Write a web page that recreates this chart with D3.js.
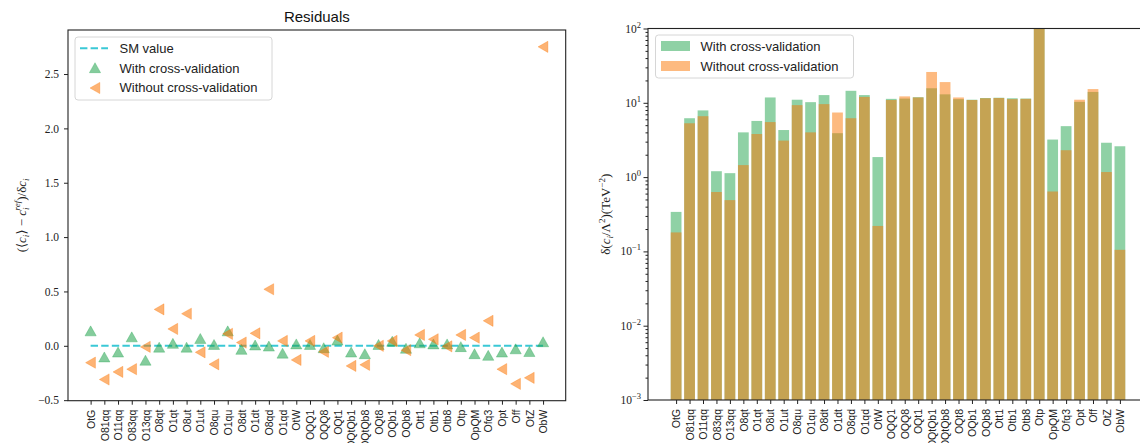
<!DOCTYPE html>
<html><head><meta charset="utf-8">
<script src="https://cdn.jsdelivr.net/npm/d3@7"></script>
<style>body{margin:0;background:#fff}svg{display:block}</style>
</head><body>
<svg id="c" width="1140" height="443"></svg>
<script>
const categories = ["OtG","O81qq","O11qq","O83qq","O13qq","O8qt","O1qt","O8ut","O1ut","O8qu","O1qu","O8dt","O1dt","O8qd","O1qd","OtW","OQQ1","OQQ8","OQt1","OQtQb1","OQtQb8","OQt8","OQb1","OQb8","Ott1","Otb1","Otb8","Otp","OpQM","Ofq3","Opt","Off","OtZ","ObW"];
const residWithCV = [0.13,-0.11,-0.065,0.075,-0.14,-0.02,0.015,-0.02,0.06,0.005,0.13,-0.04,0.0,-0.01,-0.075,0.01,0.005,-0.025,0.045,-0.065,-0.08,0.005,0.035,-0.03,0.02,0.01,0.01,-0.015,-0.08,-0.095,-0.065,-0.035,-0.06,0.03];
const residWithoutCV = [-0.155,-0.31,-0.24,-0.215,-0.01,0.335,0.155,0.295,-0.06,-0.17,0.11,0.03,0.115,0.52,0.045,-0.13,0.045,-0.055,0.075,-0.185,-0.175,0.0,0.045,-0.04,0.1,0.06,-0.005,0.1,0.075,0.23,-0.215,-0.35,-0.295,2.75];
const errWithCV = [0.34,6.2,7.9,1.2,1.13,4.0,5.7,11.8,4.3,11.0,10.2,12.7,3.9,14.5,12.7,1.86,11.3,11.4,11.9,15.7,13.0,11.2,11.0,11.6,11.7,11.5,11.4,130,3.2,4.85,10.3,14.0,2.9,2.6];
const errWithoutCV = [0.18,5.3,6.6,0.63,0.49,1.45,3.8,5.5,3.1,9.3,4.0,9.6,7.4,6.2,12.0,0.22,10.9,12.2,11.8,26,19,11.8,10.9,11.5,11.6,11.2,11.3,130,0.64,2.3,11.0,15.3,1.17,0.105];
const residTicks = [-0.5,0.0,0.5,1.0,1.5,2.0,2.5];
const logTicks = [-3,-2,-1,0,1,2];

const GREEN = "rgb(31,163,75)", ORANGE = "rgb(251,117,1)", CYAN = "#17becf";
const SANS = "'Liberation Sans', Arial, sans-serif";
const SERIF = "'Liberation Serif', 'DejaVu Serif', serif";
const svg = d3.select("#c");

/* ---------- LEFT: residuals ---------- */
const L = {l:68, r:565.7, t:30, b:400.7};
const xL = d3.scaleLinear().domain([-1.65, categories.length-1+1.65]).range([L.l, L.r]);
const yL = d3.scaleLinear().domain([-0.505, 2.905]).range([L.b, L.t]);
const gL = svg.append("g");

// SM line
gL.append("line").attr("x1", xL(0)).attr("x2", xL(categories.length-1))
  .attr("y1", yL(0)).attr("y2", yL(0))
  .attr("stroke", CYAN).attr("stroke-opacity", 0.85).attr("stroke-width", 2)
  .attr("stroke-dasharray", "7.4,3.2");

const upTri = "M0,-5.8L5.6,4.2L-5.6,4.2Z";
const leftTri = "M-5,0L4.8,-5.6L4.8,5.6Z";
gL.selectAll(".g").data(residWithCV).join("path")
  .attr("d", upTri).attr("transform", (d,i)=>`translate(${xL(i)},${yL(d)})`)
  .attr("fill", GREEN).attr("fill-opacity", 0.55)
  .attr("stroke", GREEN).attr("stroke-opacity", 0.3).attr("stroke-width", 1);
gL.selectAll(".o").data(residWithoutCV).join("path")
  .attr("d", leftTri).attr("transform", (d,i)=>`translate(${xL(i)},${yL(d)})`)
  .attr("fill", ORANGE).attr("fill-opacity", 0.55)
  .attr("stroke", ORANGE).attr("stroke-opacity", 0.3).attr("stroke-width", 1);

// frame
gL.append("rect").attr("x", L.l).attr("y", L.t).attr("width", L.r-L.l).attr("height", L.b-L.t)
  .attr("fill","none").attr("stroke","#222").attr("stroke-width",1.1);

// axes
const axYL = gL.append("g").attr("transform",`translate(${L.l},0)`)
  .call(d3.axisLeft(yL).tickValues(residTicks).tickSize(4).tickPadding(5)
    .tickFormat(d => d3.format(".1f")(d).replace("-", "\u2212")));
axYL.select(".domain").remove();
axYL.selectAll("text").attr("font-family", SERIF).attr("font-size", 11.5).attr("fill","#222");
axYL.selectAll("line").attr("stroke","#222");

const axXL = gL.append("g").attr("transform",`translate(0,${L.b})`)
  .call(d3.axisBottom(xL).tickValues(d3.range(categories.length)).tickSize(4).tickFormat(i=>categories[i]));
axXL.select(".domain").remove();
axXL.selectAll("line").attr("stroke","#222");
axXL.selectAll("text").attr("font-family", SANS).attr("font-size", 10.5).attr("fill","#222")
  .attr("transform","rotate(-90)").attr("text-anchor","end").attr("dx","-0.6em").attr("dy","0.35em").attr("x",-4).attr("y",0)
  .attr("dx",null).attr("x",-9);

// title
svg.append("text").attr("x", (L.l+L.r)/2).attr("y", 22).attr("text-anchor","middle")
  .attr("font-family", SANS).attr("font-size", 15).attr("fill","#111").text("Residuals");

// y label left
const yl1 = svg.append("text").attr("transform",`translate(26,${(L.t+L.b)/2}) rotate(-90)`)
  .attr("text-anchor","middle").attr("font-family", SERIF).attr("font-size", 13).attr("fill","#222");
yl1.append("tspan").text("(\u27E8");
yl1.append("tspan").attr("font-style","italic").text("c");
yl1.append("tspan").attr("font-style","italic").attr("font-size",9).attr("dy",3).text("i");
yl1.append("tspan").attr("dy",-3).text("\u27E9 \u2212 ");
yl1.append("tspan").attr("font-style","italic").text("c");
yl1.append("tspan").attr("font-style","italic").attr("font-size",9).attr("dy",3).text("i");
yl1.append("tspan").attr("font-style","italic").attr("font-size",9).attr("dx",-3).attr("dy",-9).text("ref");
yl1.append("tspan").attr("dy",6).text(")/\u03B4");
yl1.append("tspan").attr("font-style","italic").text("c");
yl1.append("tspan").attr("font-style","italic").attr("font-size",9).attr("dy",3).text("i");

// legend left
const lg = svg.append("g");
lg.append("rect").attr("x",75).attr("y",37).attr("width",197).attr("height",63).attr("rx",3)
  .attr("fill","#fff").attr("fill-opacity",0.8).attr("stroke","#d6d6d6");
lg.append("line").attr("x1",80).attr("x2",108).attr("y1",48.3).attr("y2",48.3)
  .attr("stroke",CYAN).attr("stroke-opacity",0.85).attr("stroke-width",2).attr("stroke-dasharray","7.4,3.2");
lg.append("path").attr("d",upTri).attr("transform","translate(95,68.5)")
  .attr("fill",GREEN).attr("fill-opacity",0.55).attr("stroke",GREEN).attr("stroke-opacity",0.3);
lg.append("path").attr("d",leftTri).attr("transform","translate(95,88)")
  .attr("fill",ORANGE).attr("fill-opacity",0.55).attr("stroke",ORANGE).attr("stroke-opacity",0.3);
[["SM value",48.3],["With cross-validation",68.3],["Without cross-validation",87.7]].forEach(([t,y])=>{
  lg.append("text").attr("x",119.5).attr("y",y).attr("dy","0.36em").attr("font-family",SANS)
    .attr("font-size",13).attr("fill","#222").text(t);
});

/* ---------- RIGHT: uncertainties ---------- */
const R = {l:648, r:1148, t:28.5, b:400};
const xR = d3.scaleLinear().domain([-2.09, categories.length-1+2.09]).range([R.l, R.r]);
const yR = d3.scaleLog().domain([1e-3, 1e2]).range([R.b, R.t]);
const gR = svg.append("g");
svg.append("clipPath").attr("id","clipR").append("rect")
  .attr("x",R.l).attr("y",R.t).attr("width",R.r-R.l).attr("height",R.b-R.t);
const bars = gR.append("g").attr("clip-path","url(#clipR)");
const bw = xR(0.8)-xR(0);
bars.selectAll(".bg").data(errWithCV).join("rect")
  .attr("x",(d,i)=>xR(i)-bw/2).attr("width",bw)
  .attr("y",d=>yR(d)).attr("height",d=>R.b-yR(d))
  .attr("fill",GREEN).attr("fill-opacity",0.5);
bars.selectAll(".bo").data(errWithoutCV).join("rect")
  .attr("x",(d,i)=>xR(i)-bw/2).attr("width",bw)
  .attr("y",d=>yR(d)).attr("height",d=>R.b-yR(d))
  .attr("fill",ORANGE).attr("fill-opacity",0.5);

// spines
gR.append("rect").attr("x",R.l).attr("y",R.t).attr("width",R.r-R.l).attr("height",R.b-R.t)
  .attr("fill","none").attr("stroke","#222").attr("stroke-width",1.1);

// minor ticks
const minor = [];
logTicks.slice(0,-1).forEach(k=>{ for(let m=2;m<10;m++) minor.push(m*Math.pow(10,k)); });
const axMin = gR.append("g").attr("transform",`translate(${R.l},0)`)
  .call(d3.axisLeft(yR).tickValues(minor).tickSize(2.5).tickFormat(""));
axMin.select(".domain").remove(); axMin.selectAll("line").attr("stroke","#222");
const axMaj = gR.append("g").attr("transform",`translate(${R.l},0)`)
  .call(d3.axisLeft(yR).tickValues(logTicks.map(k=>Math.pow(10,k))).tickSize(4.5).tickFormat(""));
axMaj.select(".domain").remove(); axMaj.selectAll("line").attr("stroke","#222");
logTicks.forEach(k=>{
  const t = gR.append("text").attr("x",R.l-7).attr("y",yR(Math.pow(10,k))).attr("dy","0.35em")
    .attr("text-anchor","end").attr("font-family",SERIF).attr("font-size",11.5).attr("fill","#222");
  t.append("tspan").text("10");
  t.append("tspan").attr("font-size",8.5).attr("dy",-5).text(String(k).replace("-","\u2212"));
});

const axXR = gR.append("g").attr("transform",`translate(0,${R.b})`)
  .call(d3.axisBottom(xR).tickValues(d3.range(categories.length)).tickSize(4).tickFormat(i=>categories[i]));
axXR.select(".domain").remove();
axXR.selectAll("line").attr("stroke","#222");
axXR.selectAll("text").attr("font-family", SANS).attr("font-size", 10.5).attr("fill","#222")
  .attr("transform","rotate(-90)").attr("text-anchor","end").attr("dy","0.35em").attr("x",-9).attr("y",0);

// y label right
const yl2 = svg.append("text").attr("transform",`translate(610,${(R.t+R.b)/2}) rotate(-90)`)
  .attr("text-anchor","middle").attr("font-family", SERIF).attr("font-size", 13).attr("fill","#222");
yl2.append("tspan").text("\u03B4(");
yl2.append("tspan").attr("font-style","italic").text("c");
yl2.append("tspan").attr("font-style","italic").attr("font-size",9).attr("dy",3).text("i");
yl2.append("tspan").attr("dy",-3).text("/\u039B");
yl2.append("tspan").attr("font-size",9).attr("dy",-5).text("2");
yl2.append("tspan").attr("dy",5).text(")(TeV");
yl2.append("tspan").attr("font-size",9).attr("dy",-5).text("\u22122");
yl2.append("tspan").attr("dy",5).text(")");

// legend right
const lr = svg.append("g");
lr.append("rect").attr("x",655.5).attr("y",35).attr("width",198).attr("height",43).attr("rx",3)
  .attr("fill","#fff").attr("fill-opacity",0.8).attr("stroke","#d6d6d6");
[["With cross-validation",GREEN,46],["Without cross-validation",ORANGE,66]].forEach(([t,c,y])=>{
  lr.append("rect").attr("x",661).attr("y",y-5).attr("width",29).attr("height",10)
    .attr("fill",c).attr("fill-opacity",0.5);
  lr.append("text").attr("x",700.5).attr("y",y).attr("dy","0.36em").attr("font-family",SANS)
    .attr("font-size",13).attr("fill","#222").text(t);
});
</script>
</body></html>
